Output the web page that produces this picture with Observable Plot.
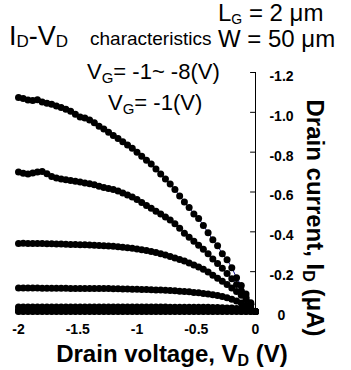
<!DOCTYPE html>
<html>
<head>
<meta charset="utf-8">
<script src="https://cdn.jsdelivr.net/npm/d3@7"></script>
<script src="https://cdn.jsdelivr.net/npm/@observablehq/plot@0.6"></script>
<style>
  html, body { margin: 0; padding: 0; background: #fff; }
  #chart { width: 351px; height: 370px; }
</style>
</head>
<body>
<div id="chart"></div>
<script>
// Drain voltage sweep (V)
const vd = [-2.00,-1.96,-1.92,-1.88,-1.84,-1.80,-1.76,-1.72,-1.68,-1.64,-1.60,-1.56,-1.52,-1.48,-1.44,-1.40,-1.36,-1.32,-1.28,-1.24,-1.20,-1.16,-1.12,-1.08,-1.04,-1.00,-0.96,-0.92,-0.88,-0.84,-0.80,-0.76,-0.72,-0.68,-0.64,-0.60,-0.56,-0.52,-0.48,-0.44,-0.40,-0.36,-0.32,-0.28,-0.24,-0.20,-0.16,-0.12,-0.08,-0.04,0.00];

// Drain current (uA) per gate voltage
const idVg8 = [-1.075,-1.070,-1.062,-1.060,-1.063,-1.052,-1.046,-1.041,-1.032,-1.024,-1.015,-1.005,-0.990,-0.976,-0.972,-0.962,-0.948,-0.930,-0.916,-0.900,-0.884,-0.868,-0.852,-0.836,-0.820,-0.800,-0.780,-0.760,-0.740,-0.715,-0.690,-0.665,-0.640,-0.612,-0.580,-0.550,-0.522,-0.490,-0.467,-0.432,-0.395,-0.360,-0.330,-0.290,-0.260,-0.220,-0.170,-0.130,-0.088,-0.044,0.000];
const idVg7 = [-0.700,-0.694,-0.690,-0.696,-0.700,-0.703,-0.692,-0.678,-0.670,-0.665,-0.661,-0.658,-0.654,-0.650,-0.645,-0.641,-0.636,-0.629,-0.623,-0.618,-0.612,-0.605,-0.595,-0.585,-0.575,-0.562,-0.547,-0.532,-0.518,-0.503,-0.489,-0.475,-0.459,-0.440,-0.418,-0.393,-0.373,-0.353,-0.333,-0.312,-0.290,-0.264,-0.241,-0.217,-0.191,-0.165,-0.136,-0.104,-0.071,-0.036,0.000];
const idVg6 = [-0.342,-0.343,-0.341,-0.342,-0.341,-0.341,-0.340,-0.340,-0.339,-0.339,-0.338,-0.337,-0.336,-0.335,-0.335,-0.334,-0.333,-0.332,-0.330,-0.329,-0.327,-0.325,-0.323,-0.320,-0.317,-0.314,-0.310,-0.306,-0.301,-0.296,-0.290,-0.284,-0.276,-0.268,-0.261,-0.253,-0.244,-0.234,-0.224,-0.212,-0.198,-0.182,-0.167,-0.152,-0.136,-0.118,-0.100,-0.081,-0.061,-0.036,0.000];
const idVg5 = [-0.118,-0.118,-0.118,-0.118,-0.118,-0.117,-0.117,-0.117,-0.117,-0.117,-0.117,-0.116,-0.116,-0.116,-0.116,-0.116,-0.115,-0.115,-0.115,-0.115,-0.114,-0.114,-0.113,-0.113,-0.112,-0.112,-0.111,-0.110,-0.109,-0.108,-0.108,-0.107,-0.105,-0.104,-0.102,-0.101,-0.099,-0.096,-0.094,-0.091,-0.088,-0.084,-0.080,-0.075,-0.069,-0.061,-0.053,-0.043,-0.031,-0.017,0.000];
const idVg4 = [-0.022,-0.022,-0.022,-0.022,-0.022,-0.022,-0.022,-0.022,-0.022,-0.022,-0.022,-0.022,-0.022,-0.022,-0.022,-0.022,-0.022,-0.022,-0.022,-0.022,-0.022,-0.022,-0.022,-0.022,-0.022,-0.022,-0.022,-0.022,-0.022,-0.022,-0.022,-0.022,-0.021,-0.021,-0.021,-0.021,-0.021,-0.021,-0.021,-0.021,-0.021,-0.020,-0.020,-0.019,-0.018,-0.017,-0.015,-0.012,-0.009,-0.005,0.000];
const idVg3 = [-0.008,-0.008,-0.008,-0.008,-0.008,-0.008,-0.008,-0.008,-0.008,-0.008,-0.008,-0.008,-0.008,-0.008,-0.008,-0.008,-0.008,-0.008,-0.008,-0.008,-0.008,-0.008,-0.008,-0.008,-0.008,-0.008,-0.008,-0.008,-0.008,-0.008,-0.008,-0.008,-0.008,-0.008,-0.008,-0.008,-0.008,-0.008,-0.008,-0.008,-0.008,-0.008,-0.007,-0.007,-0.007,-0.006,-0.006,-0.005,-0.004,-0.002,0.000];
const idVg2 = [-0.002,-0.002,-0.002,-0.002,-0.002,-0.002,-0.002,-0.002,-0.002,-0.002,-0.002,-0.002,-0.002,-0.002,-0.002,-0.002,-0.002,-0.002,-0.002,-0.002,-0.002,-0.002,-0.002,-0.002,-0.002,-0.002,-0.002,-0.002,-0.002,-0.002,-0.002,-0.002,-0.002,-0.002,-0.002,-0.002,-0.002,-0.002,-0.002,-0.002,-0.002,-0.002,-0.002,-0.002,-0.002,-0.002,-0.002,-0.001,-0.001,-0.001,0.000];
const idVg1 = [0.000,0.000,0.000,0.000,0.000,0.000,0.000,0.000,0.000,0.000,0.000,0.000,0.000,0.000,0.000,0.000,0.000,0.000,0.000,0.000,0.000,0.000,0.000,0.000,0.000,0.000,0.000,0.000,0.000,0.000,0.000,0.000,0.000,0.000,0.000,0.000,0.000,0.000,0.000,0.000,0.000,0.000,0.000,0.000,0.000,0.000,0.000,0.000,0.000,0.000,0.000];

const vgLabels = ["-8", "-7", "-6", "-5", "-4", "-3", "-2", "-1"];
const curves = [idVg8, idVg7, idVg6, idVg5, idVg4, idVg3, idVg2, idVg1];

const xTicks = [-2, -1.5, -1, -0.5, 0];
const xTickLabels = ["-2", "-1.5", "-1", "-0.5", "0"];
const yTicks = [-1.2, -1.0, -0.8, -0.6, -0.4, -0.2, 0];
const yTickLabels = ["-1.2", "-1.0", "-0.8", "-0.6", "-0.4", "-0.2", "0"];

const rows = [];
curves.forEach((c, k) => c.forEach((v, i) => rows.push({vd: vd[i], id: v, vg: vgLabels[k]})));

const tickShape = {draw(context, l) { context.moveTo(0, 0); context.lineTo(0, -l); }};
const font = "Arial, 'Liberation Sans', sans-serif";

const chart = Plot.plot({
  width: 351,
  height: 370,
  marginLeft: 18,
  marginRight: 96,
  marginTop: 72,
  marginBottom: 59,
  style: {fontFamily: font, color: "black", background: "white", overflow: "visible"},
  x: {domain: [-2, 0], axis: null},
  y: {domain: [0, -1.2], axis: null},
  marks: [
    Plot.line(rows, {x: "vd", y: "id", z: "vg", stroke: "#14148c", strokeWidth: 1}),
    Plot.dot(rows, {x: "vd", y: "id", r: 3.5, fill: "black", stroke: "none"}),
    Plot.frame({anchor: "right", stroke: "black", strokeWidth: 1}),
    Plot.vector(yTicks, {y: d => d, frameAnchor: "right", rotate: -90, length: 5, anchor: "start", shape: tickShape, stroke: "black", strokeWidth: 1}),
    Plot.text(yTicks, {y: d => d, frameAnchor: "right", text: (d, i) => yTickLabels[i], dx: 26, dy: 4, textAnchor: "middle", fontSize: 14, fontWeight: "bold", fontFamily: font, fill: "black"}),
    Plot.text(xTicks, {x: d => d, frameAnchor: "bottom", text: (d, i) => xTickLabels[i], dy: 22, fontSize: 14, fontWeight: "bold", fontFamily: font, fill: "black"})
  ]
});
document.getElementById("chart").appendChild(chart);

const svg = d3.select(chart);

// Annotations with subscripts
function addText(x, y, parts, opts = {}) {
  const t = svg.append("text")
    .attr("x", x).attr("y", y)
    .attr("fill", "black")
    .attr("font-family", font)
    .attr("text-anchor", opts.anchor || "start")
    .style("font-weight", opts.weight || "normal");
  if (opts.transform) t.attr("transform", opts.transform).attr("x", 0).attr("y", 0);
  parts.forEach(p => {
    const s = t.append("tspan").attr("font-size", p.size).text(p.t);
    if (p.dy) s.attr("dy", p.dy);
  });
  return t;
}
addText(9, 45, [{t: "I", size: 27}, {t: "D", size: 17, dy: 2}, {t: "-", size: 27, dy: -2}, {t: "V", size: 27}, {t: "D", size: 17, dy: 2}]);
addText(90, 45, [{t: "characteristics", size: 19}]);
addText(218, 21, [{t: "L", size: 24}, {t: "G", size: 14, dy: 3}, {t: " = 2 \u03bcm", size: 24, dy: -3}]);
addText(218, 47, [{t: "W = 50 \u03bcm", size: 24}]);
addText(87, 79, [{t: "V", size: 22}, {t: "G", size: 15, dy: 4}, {t: "= -1~ -8(V)", size: 22, dy: -4}]);
addText(108, 110, [{t: "V", size: 22}, {t: "G", size: 15, dy: 4}, {t: "= -1(V)", size: 22, dy: -4}]);
addText(172, 362, [{t: "Drain voltage, V", size: 24}, {t: "D", size: 16, dy: 4}, {t: " (V)", size: 24, dy: -4}], {weight: "bold", anchor: "middle"});
addText(0, 0, [{t: "Drain current, I", size: 24}, {t: "D", size: 16, dy: 4}, {t: " (\u03bcA)", size: 24, dy: -4}], {weight: "bold", anchor: "middle", transform: "translate(307,218) rotate(90)"});
</script>
</body>
</html>
